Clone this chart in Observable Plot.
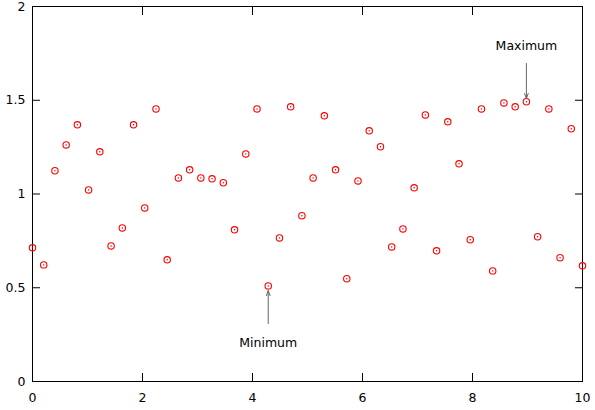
<!DOCTYPE html>
<html>
<head>
<meta charset="utf-8">
<script src="https://cdn.jsdelivr.net/npm/d3@7"></script>
<script src="https://cdn.jsdelivr.net/npm/@observablehq/plot@0.6"></script>
<style>
  html, body { margin: 0; padding: 0; background: #fff; }
  #chart { width: 595px; height: 410px; }
</style>
</head>
<body>
<div id="chart"></div>
<script>
const xValues = [0, 0.204, 0.408, 0.612, 0.816, 1.020, 1.224, 1.429, 1.633, 1.837,
  2.041, 2.245, 2.449, 2.653, 2.857, 3.061, 3.265, 3.469, 3.673, 3.878,
  4.082, 4.286, 4.490, 4.694, 4.898, 5.102, 5.306, 5.510, 5.714, 5.918,
  6.122, 6.327, 6.531, 6.735, 6.939, 7.143, 7.347, 7.551, 7.755, 7.959,
  8.163, 8.367, 8.571, 8.776, 8.980, 9.184, 9.388, 9.592, 9.796, 10];
const yValues = [0.713, 0.622, 1.124, 1.262, 1.369, 1.022, 1.225, 0.723, 0.819, 1.369,
  0.926, 1.454, 0.649, 1.086, 1.129, 1.086, 1.081, 1.060, 0.809, 1.214,
  1.454, 0.510, 0.766, 1.465, 0.884, 1.086, 1.417, 1.129, 0.548, 1.070,
  1.337, 1.252, 0.718, 0.814, 1.033, 1.422, 0.697, 1.385, 1.161, 0.756,
  1.454, 0.590, 1.486, 1.465, 1.492, 0.772, 1.454, 0.660, 1.348, 0.617];
const xTicks = [0, 2, 4, 6, 8, 10];
const yTicks = [0, 0.5, 1, 1.5, 2];

const annoLabels = ["Minimum", "Maximum"];
const annoX = [4.286, 8.980];
const annoTextY = [0.208, 1.787];
const arrowFromY = [0.309, 1.696];
const arrowToY = [0.485, 1.509];

const points = xValues.map((x, i) => ({x, y: yValues[i]}));
const annos = annoLabels.map((t, i) => ({
  text: t, x: annoX[i], ty: annoTextY[i], y1: arrowFromY[i], y2: arrowToY[i]
}));

const fmt = d => String(d);

const chart = Plot.plot({
  width: 595,
  height: 410,
  marginLeft: 32,
  marginRight: 13,
  marginTop: 6,
  marginBottom: 29,
  style: {fontFamily: "'DejaVu Sans', sans-serif", fontSize: "12.5px", background: "white", color: "black"},
  x: {domain: [0, 10]},
  y: {domain: [0, 2]},
  marks: [
    Plot.frame({stroke: "black"}),
    // inward tick marks on all four sides
    Plot.axisX(xTicks, {anchor: "bottom", fill: "none", tickSize: 8, dy: -8, label: null}),
    Plot.axisX(xTicks, {anchor: "top", fill: "none", tickSize: 8, dy: 8, label: null}),
    Plot.axisY(yTicks, {anchor: "left", fill: "none", tickSize: 8, dx: 8, label: null}),
    Plot.axisY(yTicks, {anchor: "right", fill: "none", tickSize: 8, dx: -8, label: null}),
    // tick labels
    Plot.axisX(xTicks, {anchor: "bottom", tickSize: 0, tickPadding: 12, tickFormat: fmt, label: null}),
    Plot.axisY(yTicks, {anchor: "left", tickSize: 0, tickPadding: 7, tickFormat: fmt, label: null}),
    // data points
    Plot.dot(points, {x: "x", y: "y", r: 3.2, stroke: "red", fill: "none", strokeWidth: 1.1}),
    Plot.dot(points, {x: "x", y: "y", r: 0.7, fill: "#c00000", stroke: "none"}),
    // annotations
    Plot.arrow(annos, {x1: "x", y1: "y1", x2: "x", y2: "y2", stroke: "#666666", strokeWidth: 1, headLength: 8, headAngle: 40}),
    Plot.text(annos, {x: "x", y: "ty", text: "text", fontSize: 12.5, fill: "black"})
  ]
});
document.getElementById("chart").appendChild(chart);
</script>
</body>
</html>
